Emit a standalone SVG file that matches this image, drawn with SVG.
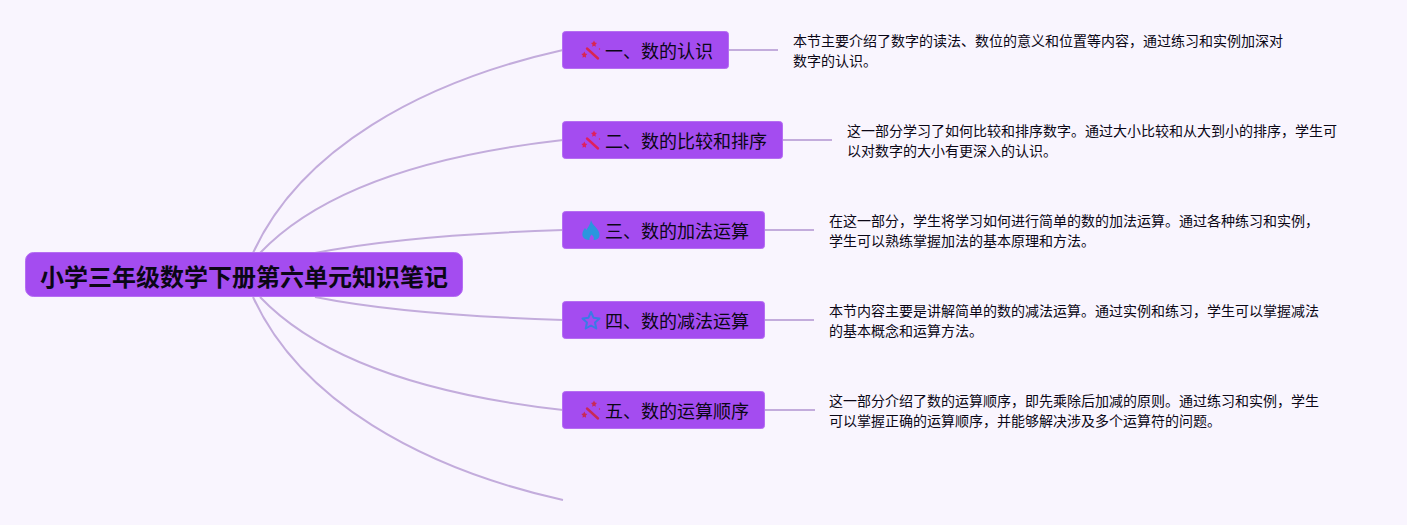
<svg xmlns="http://www.w3.org/2000/svg" width="1407" height="525" viewBox="0 0 1407 525">
<style>
text{font-family:"Noto Sans CJK SC","Noto Sans",sans-serif;fill:#0b0716}
.root{font-size:24px;font-weight:700}
.t{font-size:18px}
.d{font-size:14px}
.box{fill:#a44cf0;stroke:#b56ef2;stroke-width:1}
.c{fill:none;stroke:#c3acdc;stroke-width:2}
.w{fill:none;stroke-width:2.4;stroke-linecap:round}
</style>
<defs>
<g id="wand"><path class="w" d="M-3-2.500 8 7.500"/><path d="M4-10.500 5-8.500 7-8 5.500-6.500 5.800-4.300 4-5.300 2.200-4.300 2.500-6.500 1-8 3-8.500ZM-5.700 0.500-4.700 2.500-2.700 3-4.200 4.500-3.900 6.700-5.700 5.700-7.500 6.700-7.200 4.500-8.700 3-6.700 2.500Z" stroke="none"/><circle cx="9.500" cy="-2" r=".7" stroke="none"/></g>
</defs>
<rect width="1407" height="525" fill="#f9f5fe"/>
<g id="connectors">
<path class="c" d="M253 253C300 150 420 82 563 50"/>
<path class="c" d="M260 253C320 190 430 155 563 140"/>
<path class="c" d="M315 253C380 240 470 233 563 230"/>
<path class="c" d="M315 297C380 310 470 317 563 320"/>
<path class="c" d="M260 297C320 360 430 395 563 410"/>
<path class="c" d="M253 297C300 400 420 468 563 500"/>
<path class="c" d="M728 50H778M782 140H832M764 230H814M764 320H814M765 410H815"/>
</g>
<g id="root"><rect class="box" x="25.500" y="252.500" width="437" height="44" rx="8"/><text class="root" x="40" y="286">小学三年级数学下册第六单元知识笔记</text></g>
<g id="n1"><rect class="box" x="562.500" y="31.500" width="166" height="37" rx="3"/>
<use href="#wand" x="590" y="51" fill="#d92650" stroke="#d92650"/>
<text class="t" x="605" y="58">一、数的认识</text>
<text class="d"><tspan x="793" y="46">本节主要介绍了数字的读法、数位的意义和位置等内容，通过练习和实例加深对</tspan><tspan x="793" y="66">数字的认识。</tspan></text></g>
<g id="n2"><rect class="box" x="562.500" y="121.500" width="220" height="37" rx="3"/>
<use href="#wand" x="590" y="141" fill="#e0205c" stroke="#e0205c"/>
<text class="t" x="605" y="148">二、数的比较和排序</text>
<text class="d"><tspan x="847" y="136">这一部分学习了如何比较和排序数字。通过大小比较和从大到小的排序，学生可</tspan><tspan x="847" y="156">以对数字的大小有更深入的认识。</tspan></text></g>
<g id="n3"><rect class="box" x="562.500" y="211.500" width="202" height="37" rx="3"/>
<path d="M591 220C592 224 595 226 597.500 229.500C600 233 600 236 598.500 238C597 239.500 595.500 240 593.500 240C594.500 238 593.500 236 591.500 234.500C590.500 236 589 238 589.500 240C586.500 240 584 239 583 237C581.500 234 583 230.500 585 228L586.500 230C588 227 590.500 224 591 220Z" fill="#2a96de"/>
<text class="t" x="605" y="238">三、数的加法运算</text>
<text class="d"><tspan x="829" y="226">在这一部分，学生将学习如何进行简单的数的加法运算。通过各种练习和实例，</tspan><tspan x="829" y="246">学生可以熟练掌握加法的基本原理和方法。</tspan></text></g>
<g id="n4"><rect class="box" x="562.500" y="301.500" width="202" height="37" rx="3"/>
<path d="M591 312 593.500 317.700 599.500 318.400 595 322.500 596.300 328.500 591 325.500 585.700 328.500 587 322.500 582.500 318.400 588.500 317.700Z" fill="none" stroke="#3a7ae6" stroke-width="2" stroke-linejoin="round"/>
<text class="t" x="605" y="328">四、数的减法运算</text>
<text class="d"><tspan x="829" y="316">本节内容主要是讲解简单的数的减法运算。通过实例和练习，学生可以掌握减法</tspan><tspan x="829" y="336">的基本概念和运算方法。</tspan></text></g>
<g id="n5"><rect class="box" x="562.500" y="391.500" width="202" height="37" rx="3"/>
<use href="#wand" x="590" y="411" fill="#c92a55" stroke="#c92a55"/>
<text class="t" x="605" y="418">五、数的运算顺序</text>
<text class="d"><tspan x="829" y="406">这一部分介绍了数的运算顺序，即先乘除后加减的原则。通过练习和实例，学生</tspan><tspan x="829" y="426">可以掌握正确的运算顺序，并能够解决涉及多个运算符的问题。</tspan></text></g>
</svg>
